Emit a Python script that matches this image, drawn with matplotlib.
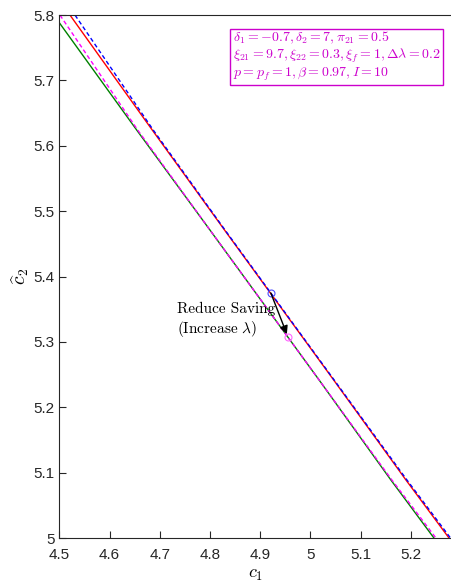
import matplotlib.pyplot as plt

plt.rcParams["mathtext.fontset"] = "cm"
plt.rcParams["font.family"] = ["Liberation Sans", "DejaVu Sans"]

# curves (c1, c2_hat)
blue_c1 = [4.531, 4.687, 4.830, 5.047, 5.192, 5.279]
blue_c2 = [5.800, 5.624, 5.471, 5.242, 5.089, 5.000]
red_c1 = [4.521, 4.685, 4.829, 5.046, 5.190, 5.276]
red_c2 = [5.800, 5.624, 5.471, 5.242, 5.089, 5.000]
mag_c1 = [4.501, 4.656, 4.800, 5.017, 5.162, 5.250]
mag_c2 = [5.800, 5.624, 5.471, 5.242, 5.089, 5.000]
green_c1 = [4.500, 4.654, 4.800, 5.017, 5.160, 5.246]
green_c2 = [5.788, 5.624, 5.471, 5.242, 5.089, 5.000]

start_pt = (4.921, 5.375)
end_pt = (4.955, 5.308)

xticks = [4.5, 4.6, 4.7, 4.8, 4.9, 5.0, 5.1, 5.2]
xticklabels = ["4.5", "4.6", "4.7", "4.8", "4.9", "5", "5.1", "5.2"]
yticks = [5.0, 5.1, 5.2, 5.3, 5.4, 5.5, 5.6, 5.7, 5.8]
yticklabels = ["5", "5.1", "5.2", "5.3", "5.4", "5.5", "5.6", "5.7", "5.8"]

params = (r"$\delta_1 = -0.7, \delta_2 = 7, \pi_{21} = 0.5$" "\n"
          r"$\xi_{21} = 9.7, \xi_{22} = 0.3, \xi_f = 1, \Delta\lambda = 0.2$" "\n"
          r"$p = p_f = 1, \beta = 0.97, I = 10$")

fig = plt.figure(figsize=(4.52, 5.82), dpi=100)
ax = fig.add_axes([0.1316, 0.0756, 0.8684, 0.8984])

ax.plot(green_c1, green_c2, color=(0, 0.5, 0), lw=1)
ax.plot(mag_c1, mag_c2, color=(1, 0, 1), lw=1, ls=(0, (3, 2)))
ax.plot(red_c1, red_c2, color=(1, 0, 0), lw=1)
ax.plot(blue_c1, blue_c2, color=(0, 0, 1), lw=1, ls=(0, (3, 2)))

ax.plot(*start_pt, "o", mfc="none", mec=(0.3, 0.3, 1), ms=5, mew=0.8)
ax.plot(*end_pt, "o", mfc="none", mec=(1, 0.4, 1), ms=5, mew=0.8)
ax.annotate("", xy=end_pt, xytext=start_pt,
            arrowprops=dict(arrowstyle="-|>", color="k", lw=1, mutation_scale=12,
                            shrinkA=0, shrinkB=2))
ax.text(4.734, 5.333, "Reduce Saving\n(Increase $\\lambda$)", family="cmr10",
        fontsize=11, va="center", ha="left", linespacing=1.25)

ax.text(0.441, 0.972, params, transform=ax.transAxes, color=(0.8, 0, 0.8),
        fontsize=10, va="top", ha="left", linespacing=1.05,
        bbox=dict(boxstyle="square,pad=0.18", fc="white", ec=(0.8, 0, 0.8), lw=1))

ax.set_xlim(4.5, 5.282)
ax.set_ylim(5.0, 5.8)
ax.set_xticks(xticks, xticklabels)
ax.set_yticks(yticks, yticklabels)
ax.tick_params(direction="in", length=5, labelsize=11, colors="#262626", width=0.8)
ax.tick_params(axis="x", pad=7)
ax.spines["right"].set_visible(False)
for s in ["left", "bottom", "top"]:
    ax.spines[s].set_color("#262626")
ax.set_xlabel("$c_1$", fontsize=13, labelpad=3)
ax.set_ylabel(r"$\widehat{c}_2$", fontsize=14, labelpad=2)

fig.savefig("out.png", dpi=100)
